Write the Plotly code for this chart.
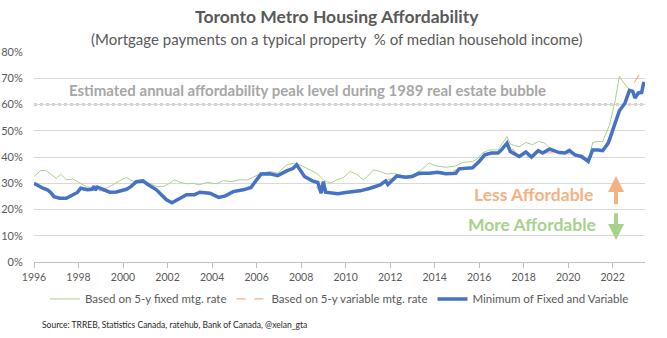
import plotly.graph_objects as go

# ---- data ----
min_t = [1996.0, 1996.2, 1996.4, 1996.6, 1996.75, 1996.9, 1997.15, 1997.45, 1997.75, 1997.95,
         1998.1, 1998.4, 1998.6, 1998.7, 1998.75, 1998.85, 1999.1, 1999.4, 1999.7, 2000.15,
         2000.35, 2000.6, 2000.9, 2001.1, 2001.5, 2001.95, 2002.2, 2002.45, 2002.85, 2003.2,
         2003.45, 2003.9, 2004.3, 2004.6, 2004.95, 2005.4, 2005.75, 2006.0, 2006.2, 2006.6,
         2006.95, 2007.35, 2007.65, 2007.8, 2007.95, 2008.15, 2008.5, 2008.75, 2008.9, 2009.0,
         2009.1, 2009.35, 2009.65, 2010.0, 2010.5, 2010.65, 2011.1, 2011.55, 2011.8, 2011.9,
         2012.3, 2012.7, 2013.0, 2013.3, 2013.75, 2014.15, 2014.5, 2014.95, 2015.1, 2015.4,
         2015.7, 2016.0, 2016.25, 2016.55, 2016.85, 2017.0, 2017.25, 2017.4, 2017.8, 2018.1,
         2018.35, 2018.65, 2018.85, 2019.15, 2019.6, 2019.85, 2020.05, 2020.3, 2020.6, 2020.9,
         2021.1, 2021.35, 2021.55, 2021.8, 2021.95, 2022.1, 2022.3, 2022.55, 2022.6, 2022.75,
         2022.9, 2023.0, 2023.15, 2023.3, 2023.4]
min_v = [30.0, 29.0, 28.1, 27.5, 26.5, 24.9, 24.3, 24.3, 25.6, 26.5,
         28.1, 27.5, 27.7, 28.9, 27.3, 28.5, 27.7, 26.6, 26.7, 27.7,
         28.7, 30.6, 30.9, 29.6, 27.5, 23.7, 22.6, 23.7, 25.6, 25.6,
         26.6, 26.2, 24.6, 25.2, 26.8, 27.5, 28.4, 31.3, 33.5, 33.6,
         32.9, 34.7, 35.7, 37.0, 35.1, 32.6, 30.9, 30.3, 26.2, 30.6,
         26.6, 26.2, 26.0, 26.5, 26.8, 27.1, 28.1, 29.4, 30.9, 29.5,
         32.8, 32.3, 32.6, 33.8, 33.8, 34.2, 33.6, 33.8, 35.5, 35.7,
         35.9, 38.3, 40.8, 41.5, 41.5, 42.7, 45.3, 42.1, 40.2, 41.9,
         40.0, 42.4, 41.5, 43.0, 41.7, 41.5, 42.5, 40.8, 40.2, 38.3,
         42.7, 42.7, 42.4, 45.3, 49.1, 52.0, 57.6, 60.5, 61.6, 65.4,
         65.0, 62.5, 64.4, 64.6, 68.6]

fixed_t = [1996.0, 1996.3, 1996.55, 1996.8, 1997.0, 1997.2, 1997.45, 1997.75, 1998.05, 1998.35,
           1998.8, 1999.25, 1999.55, 1999.85, 2000.15, 2000.4, 2000.6, 2000.9, 2001.2, 2001.5,
           2001.8, 2002.1, 2002.3, 2002.55, 2002.85, 2003.15, 2003.4, 2003.8, 2004.2, 2004.5,
           2004.85, 2005.25, 2005.6, 2005.9, 2006.2, 2006.6, 2006.95, 2007.35, 2007.7, 2007.95,
           2008.3, 2008.7, 2009.0, 2009.3, 2009.6, 2009.9, 2010.2, 2010.5, 2010.8, 2011.0,
           2011.25, 2011.55, 2011.85, 2012.15, 2012.6, 2013.0, 2013.4, 2013.75, 2014.05, 2014.5,
           2014.95, 2015.25, 2015.7, 2015.9, 2016.15, 2016.45, 2016.85, 2017.05, 2017.25, 2017.4,
           2017.6, 2017.8, 2018.1, 2018.4, 2018.65, 2018.95, 2019.1, 2019.3, 2019.6, 2019.85,
           2020.05, 2020.3, 2020.6, 2020.9, 2021.1, 2021.35, 2021.55, 2021.7, 2021.85, 2022.1,
           2022.3, 2022.45, 2022.75, 2022.9, 2023.0, 2023.15, 2023.3, 2023.4]
fixed_v = [32.6, 34.8, 34.8, 33.2, 31.9, 33.5, 31.3, 31.6, 30.3, 28.7,
           28.1, 28.1, 29.4, 31.0, 32.2, 31.0, 30.6, 31.0, 30.0, 28.7,
           28.7, 30.0, 31.3, 30.4, 29.8, 30.0, 29.4, 30.3, 29.8, 31.0,
           30.6, 31.3, 31.3, 32.6, 33.8, 34.5, 33.8, 37.0, 37.7, 37.0,
           35.4, 33.8, 31.3, 30.0, 31.3, 32.2, 34.5, 33.4, 31.3, 32.8,
           35.1, 34.5, 33.5, 33.8, 32.8, 33.2, 35.1, 37.7, 36.6, 36.1,
           36.6, 37.9, 38.3, 39.2, 41.5, 42.7, 42.7, 45.3, 47.8, 45.0,
           44.3, 44.0, 45.5, 44.7, 45.9, 45.3, 44.0, 43.2, 41.9, 41.7,
           42.7, 41.0, 40.4, 38.6, 45.5, 45.9, 45.9, 49.1, 52.0, 61.0,
           70.7, 68.8, 65.6, 65.2, 62.7, 64.6, 64.8, 68.8]

var_t = [1996.0, 1996.4, 1996.9, 1997.45, 1998.1, 1998.6, 1999.4, 2000.15, 2000.6, 2001.1,
         2001.5, 2001.95, 2002.2, 2002.85, 2003.45, 2004.3, 2004.95, 2005.75, 2006.0, 2006.2,
         2006.6, 2006.95, 2007.35, 2007.8, 2008.15, 2008.5, 2008.9, 2009.35, 2010.0, 2011.1,
         2011.8, 2012.3, 2013.0, 2013.75, 2014.5, 2015.1, 2015.7, 2016.25, 2016.85, 2017.25,
         2017.8, 2018.35, 2018.85, 2019.6, 2020.3, 2020.9, 2021.1, 2021.55, 2021.95, 2022.3,
         2022.6, 2022.75, 2022.95, 2023.15, 2023.35]
var_v = [30.0, 28.1, 24.9, 24.3, 28.1, 27.7, 26.6, 27.7, 30.6, 29.6,
         27.5, 23.7, 22.6, 25.6, 26.6, 24.6, 26.8, 28.4, 31.3, 33.5,
         33.6, 32.9, 34.7, 37.0, 32.6, 30.9, 26.2, 26.2, 26.5, 28.1,
         30.9, 32.8, 32.6, 33.8, 33.6, 35.5, 35.9, 40.8, 41.5, 45.3,
         40.2, 40.0, 41.5, 41.7, 40.8, 38.3, 42.7, 42.4, 49.1, 57.6,
         61.6, 65.4, 68.2, 70.7, 74.5]

PEAK_1989 = 60
year_ticks = list(range(1996, 2023, 2))
y_ticks = list(range(0, 81, 10))
y_labels = [f"{v}%" for v in y_ticks]

FONT = "Lato"
GREY = "#595959"

fig = go.Figure()
fig.add_trace(go.Scatter(x=fixed_t, y=fixed_v, mode="lines", name="Based on 5-y fixed mtg. rate",
                         line=dict(color="#A9D18E", width=1)))
fig.add_trace(go.Scatter(x=var_t, y=var_v, mode="lines", name="Based on 5-y variable mtg. rate",
                         line=dict(color="#F4B183", width=1.2, dash="dash")))
fig.add_trace(go.Scatter(x=min_t, y=min_v, mode="lines", name="Minimum of Fixed and Variable",
                         line=dict(color="#4472C4", width=3.5)))

fig.add_shape(type="line", xref="paper", x0=0, x1=1, yref="y", y0=PEAK_1989, y1=PEAK_1989,
              line=dict(color="#A6A6A6", width=2, dash="dot"), layer="below")

ann = []
ann.append(dict(text="<b>Toronto Metro Housing Affordability</b>", xref="paper", yref="paper",
                x=0.4955, y=1.167, yanchor="middle", showarrow=False,
                font=dict(family=FONT, size=17.5, color=GREY)))
ann.append(dict(text="(Mortgage payments on a typical property  % of median household income)",
                xref="paper", yref="paper", x=0.4955, y=1.062, yanchor="middle", showarrow=False,
                font=dict(family=FONT, size=15, color=GREY)))
ann.append(dict(text="<b>Estimated annual affordability peak level during 1989 real estate bubble</b>",
                x=2008.3, y=65.6, yanchor="middle", showarrow=False,
                font=dict(family=FONT, size=15, color="#A6A6A6")))
ann.append(dict(text="<b>Less Affordable</b>", x=2018.45, y=25.6, yanchor="middle", showarrow=False,
                font=dict(family=FONT, size=17.5, color="#F4B183")))
ann.append(dict(text="<b>More Affordable</b>", x=2018.38, y=14.1, yanchor="middle", showarrow=False,
                font=dict(family=FONT, size=17.5, color="#A9D18E")))
ann.append(dict(text="", x=2022.15, y=32.8, ax=2022.15, ay=21.4, axref="x", ayref="y",
                showarrow=True, arrowhead=2, arrowsize=0.8, arrowwidth=4, arrowcolor="#F4B183"))
ann.append(dict(text="", x=2022.15, y=8.4, ax=2022.15, ay=19.1, axref="x", ayref="y",
                showarrow=True, arrowhead=2, arrowsize=0.8, arrowwidth=4, arrowcolor="#A9D18E"))
ann.append(dict(text="Source: TRREB, Statistics Canada, ratehub, Bank of Canada, @xelan_gta",
                xref="paper", yref="paper", x=0.0102, y=-0.30, xanchor="left", yanchor="middle",
                showarrow=False, font=dict(family=FONT, size=8.5, color="#262626")))

fig.update_layout(
    width=667, height=338,
    margin=dict(l=34, r=22, t=52, b=76, autoexpand=False),
    paper_bgcolor="white", plot_bgcolor="white",
    font=dict(family=FONT, color=GREY),
    showlegend=True,
    legend=dict(orientation="h", x=0.5, xanchor="center", y=-0.176, yanchor="middle",
                font=dict(family=FONT, size=11.5, color=GREY), bgcolor="rgba(0,0,0,0)"),
    annotations=ann,
    xaxis=dict(range=[1996, 2023.45], tickvals=year_ticks, ticktext=[str(y) for y in year_ticks],
               showgrid=False, zeroline=False, showline=True, linecolor="#BFBFBF", linewidth=1,
               ticks="outside", ticklen=5, tickcolor="#BFBFBF", automargin=False,
               tickfont=dict(family=FONT, size=10.5, color=GREY)),
    yaxis=dict(range=[0, 80], tickvals=y_ticks, ticktext=y_labels, showgrid=True,
               gridcolor="#D9D9D9", gridwidth=1, zeroline=False, showline=False,
               ticks="outside", ticklen=8, tickcolor="rgba(0,0,0,0)", automargin=False,
               tickfont=dict(family=FONT, size=11, color=GREY)),
)

fig.write_html("out.html")
